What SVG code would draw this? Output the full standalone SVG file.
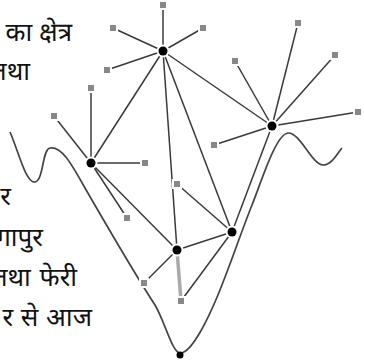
<svg xmlns="http://www.w3.org/2000/svg" width="365" height="360" viewBox="0 0 365 360">
<style>
.t{font-family:"Noto Sans Devanagari","Noto Sans","Lohit Devanagari",sans-serif;font-size:26px;fill:#111;text-anchor:end}
.e{stroke:#3a3a3a;stroke-width:1.5;fill:none}
.c{stroke:#444;stroke-width:1.7;fill:none}
.h{fill:#000;stroke:#fff;stroke-width:4;paint-order:stroke}
.l{fill:#888;stroke:#fff;stroke-width:4;paint-order:stroke}
</style>
<rect width="365" height="360" fill="#fff"/>
<g id="text">
<text class="t" x="72" y="41">का क्षेत्र</text>
<text class="t" x="30" y="80">तथा</text>
<text class="t" x="11" y="205">र</text>
<text class="t" x="43" y="246">सिंगापुर</text>
<text class="t" x="77" y="286" word-spacing="2">तथा फेरी</text>
<text class="t" x="92" y="326" word-spacing="1">र से आज</text>
</g>
<path id="curve" class="c" d="M10,132 C18,150 26,184 35,182 C44,180 42,149 50,148 C62,146 72,165 85,188 C100,214 140,282 155,305 C165,322 172,352 180,353 C190,354 205,325 215,302 C228,272 240,235 252,205 C262,180 276,134 288,133 C300,132 312,165 323,165 C332,165 338,152 342,148"/>
<g id="connectors">
<line class="e" x1="163" y1="51" x2="272" y2="126"/>
<line class="e" x1="163" y1="51" x2="91" y2="163"/>
<line class="e" x1="163" y1="51" x2="177" y2="250"/>
<line class="e" x1="163" y1="51" x2="232" y2="232"/>
<line class="e" x1="272" y1="126" x2="232" y2="232"/>
<line class="e" x1="91" y1="163" x2="177" y2="250"/>
<line class="e" x1="177" y1="250" x2="232" y2="232"/>
<line class="e" x1="163" y1="51" x2="163" y2="5"/>
<line class="e" x1="163" y1="51" x2="203" y2="28"/>
<line class="e" x1="163" y1="51" x2="113" y2="28"/>
<line class="e" x1="163" y1="51" x2="107" y2="70"/>
<line class="e" x1="91" y1="163" x2="91" y2="88"/>
<line class="e" x1="91" y1="163" x2="54" y2="116"/>
<line class="e" x1="91" y1="163" x2="145" y2="163"/>
<line class="e" x1="91" y1="163" x2="127" y2="218"/>
<line class="e" x1="272" y1="126" x2="235" y2="61"/>
<line class="e" x1="272" y1="126" x2="298" y2="23"/>
<line class="e" x1="272" y1="126" x2="335" y2="55"/>
<line class="e" x1="272" y1="126" x2="358" y2="112"/>
<line class="e" x1="272" y1="126" x2="214" y2="145"/>
<line class="e" x1="232" y1="232" x2="177" y2="184"/>
<line class="e" x1="232" y1="232" x2="181" y2="301"/>
<line x1="177" y1="250" x2="181" y2="301" stroke="#aaa" stroke-width="3.5"/>
<line class="e" x1="177" y1="250" x2="144" y2="283"/>
</g>
<g id="leaves">
<rect class="l" x="160" y="2" width="6" height="6"/>
<rect class="l" x="200" y="25" width="6" height="6"/>
<rect class="l" x="110" y="25" width="6" height="6"/>
<rect class="l" x="104" y="67" width="6" height="6"/>
<rect class="l" x="88" y="85" width="6" height="6"/>
<rect class="l" x="51" y="113" width="6" height="6"/>
<rect class="l" x="142" y="160" width="6" height="6"/>
<rect class="l" x="124" y="215" width="6" height="6"/>
<rect class="l" x="232" y="58" width="6" height="6"/>
<rect class="l" x="295" y="20" width="6" height="6"/>
<rect class="l" x="332" y="52" width="6" height="6"/>
<rect class="l" x="355" y="109" width="6" height="6"/>
<rect class="l" x="211" y="142" width="6" height="6"/>
<rect class="l" x="174" y="181" width="6" height="6"/>
<rect class="l" x="178" y="298" width="6" height="6"/>
<rect class="l" x="141" y="280" width="6" height="6"/>
</g>
<g id="hubs">
<circle id="hubA" class="h" cx="163" cy="51" r="4.5"/>
<circle id="hubB" class="h" cx="272" cy="126" r="4.5"/>
<circle id="hubC" class="h" cx="91" cy="163" r="4.5"/>
<circle id="hubD" class="h" cx="177" cy="250" r="4.5"/>
<circle id="hubE" class="h" cx="232" cy="232" r="4.5"/>
<circle id="hubF" cx="180" cy="355" r="3.5" fill="#000"/>
</g>
</svg>
